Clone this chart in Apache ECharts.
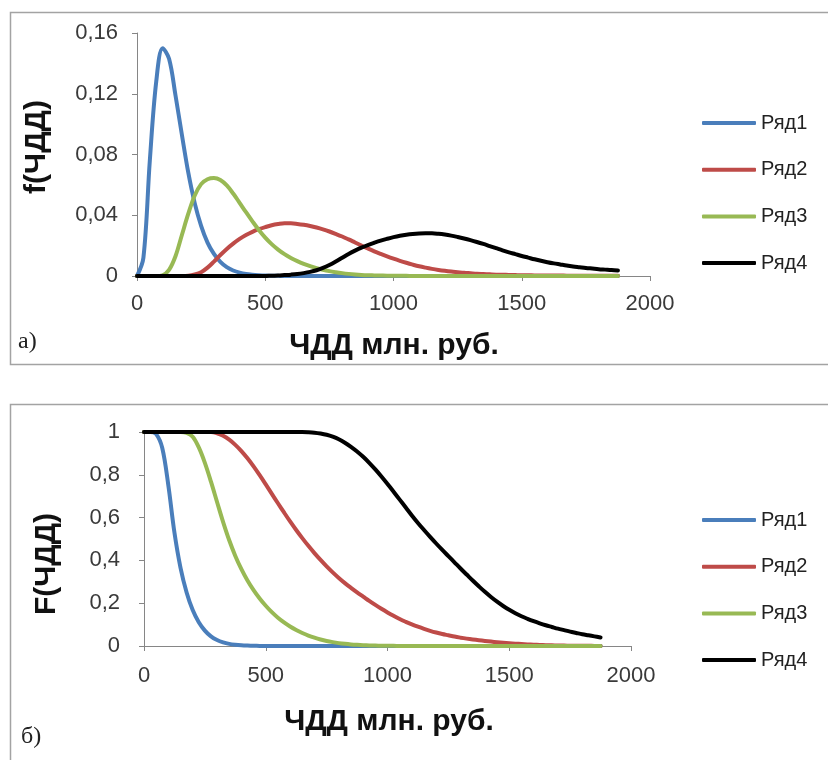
<!DOCTYPE html>
<html>
<head>
<meta charset="utf-8">
<title>ЧДД</title>
<script src="https://cdn.jsdelivr.net/npm/echarts@6.0.0/dist/echarts.min.js"></script>
<style>
  html, body { margin: 0; padding: 0; background: #fff; }
  #chart { width: 828px; height: 760px; }
</style>
</head>
<body>
<div id="chart"></div>
<script>
// ЧДД values, млн. руб. (step 25)
const npv = [
  0, 25, 50, 75, 100, 125, 150, 175, 200, 225, 250, 275, 300, 325, 350, 375, 400, 425, 450, 475,
  500, 525, 550, 575, 600, 625, 650, 675, 700, 725, 750, 775, 800, 825, 850, 875, 900, 925, 950, 975,
  1000, 1025, 1050, 1075, 1100, 1125, 1150, 1175, 1200, 1225, 1250, 1275, 1300, 1325, 1350, 1375, 1400, 1425, 1450, 1475,
  1500, 1525, 1550, 1575, 1600, 1625, 1650, 1675, 1700, 1725, 1750, 1775, 1800, 1825, 1850, 1875
];

const seriesNames = ['Ряд1', 'Ряд2', 'Ряд3', 'Ряд4'];

// density f(ЧДД)
const density1 = [
  0, 0.012, 0.076, 0.128, 0.150, 0.143, 0.119, 0.093, 0.068, 0.048, 0.033, 0.022, 0.0145, 0.0093, 0.0058, 0.0036, 0.0022, 0.0013, 0.0008, 0.0005,
  0.0003, 0.0002, 0.0001, 0, 0, 0, 0, 0, 0, 0, 0, 0, 0, 0, 0, 0, 0, 0, 0, 0,
  0, 0, 0, 0, 0, 0, 0, 0, 0, 0, 0, 0, 0, 0, 0, 0, 0, 0, 0, 0,
  0, 0, 0, 0, 0, 0, 0, 0, 0, 0, 0, 0, 0, 0, 0, 0
];
const density2 = [
  0, 0, 0, 0, 0, 0, 0, 0, 0.0002, 0.001, 0.0025, 0.0055, 0.0095, 0.0138, 0.0178, 0.0213, 0.0244, 0.027, 0.0291, 0.0308,
  0.0322, 0.0334, 0.0342, 0.0347, 0.0347, 0.0343, 0.0337, 0.0329, 0.0319, 0.0307, 0.0293, 0.0277, 0.026, 0.0241, 0.0221, 0.0201, 0.0181, 0.0162, 0.0145, 0.0129,
  0.0114, 0.01, 0.0087, 0.0075, 0.0064, 0.0055, 0.0047, 0.004, 0.0034, 0.0029, 0.0025, 0.0021, 0.0018, 0.0015, 0.0013, 0.0011, 0.0009, 0.0008, 0.0007, 0.0006,
  0.0005, 0.0005, 0.0004, 0.0004, 0.0003, 0.0003, 0.0003, 0.0002, 0.0002, 0.0002, 0.0002, 0.0001, 0.0001, 0.0001, 0.0001, 0.0001
];
const density3 = [
  0, 0, 0, 0, 0.0005, 0.004, 0.013, 0.027, 0.041, 0.053, 0.0605, 0.0637, 0.0645, 0.0632, 0.0596, 0.0543, 0.0482, 0.042, 0.036, 0.0303,
  0.0253, 0.021, 0.0174, 0.0144, 0.0119, 0.0098, 0.008, 0.0065, 0.0052, 0.0041, 0.0032, 0.0025, 0.0019, 0.0014, 0.001, 0.0007, 0.0005, 0.0004, 0.0003, 0.0002,
  0.0002, 0.0001, 0.0001, 0, 0, 0, 0, 0, 0, 0, 0, 0, 0, 0, 0, 0, 0, 0, 0, 0,
  0, 0, 0, 0, 0, 0, 0, 0, 0, 0, 0, 0, 0, 0, 0, 0
];
const density4 = [
  0, 0, 0, 0, 0, 0, 0, 0, 0, 0, 0, 0, 0, 0, 0, 0, 0, 0, 0, 0,
  0, 0.0002, 0.0003, 0.0006, 0.0009, 0.0013, 0.0019, 0.0027, 0.0038, 0.0053, 0.0072, 0.0095, 0.012, 0.0145, 0.0167, 0.0187, 0.0204, 0.0219, 0.0233, 0.0245,
  0.0256, 0.0265, 0.0272, 0.0277, 0.028, 0.0281, 0.0281, 0.0278, 0.0273, 0.0266, 0.0257, 0.0247, 0.0236, 0.0224, 0.0211, 0.0197, 0.0183, 0.0169, 0.0156, 0.0144,
  0.0132, 0.0121, 0.011, 0.01, 0.0091, 0.0083, 0.0076, 0.0069, 0.0063, 0.0058, 0.0053, 0.0049, 0.0045, 0.0042, 0.0039, 0.0037
];

// probability F(ЧДД)
const prob1 = [
  1, 1, 0.99, 0.925, 0.75, 0.53, 0.365, 0.25, 0.168, 0.111, 0.072, 0.045, 0.028, 0.017, 0.01, 0.006, 0.0035, 0.002, 0.001, 0.0005,
  0, 0, 0, 0, 0, 0, 0, 0, 0, 0, 0, 0, 0, 0, 0, 0, 0, 0, 0, 0,
  0, 0, 0, 0, 0, 0, 0, 0, 0, 0, 0, 0, 0, 0, 0, 0, 0, 0, 0, 0,
  0, 0, 0, 0, 0, 0, 0, 0, 0, 0, 0, 0, 0, 0, 0, 0
];
const prob2 = [
  1, 1, 1, 1, 1, 1, 1, 1, 1, 1, 1, 1, 0.994, 0.982, 0.964, 0.94, 0.911, 0.877, 0.839, 0.798,
  0.755, 0.711, 0.667, 0.624, 0.582, 0.542, 0.504, 0.468, 0.434, 0.402, 0.372, 0.344, 0.318, 0.294, 0.272, 0.251, 0.231, 0.211, 0.192, 0.174,
  0.157, 0.141, 0.126, 0.113, 0.101, 0.09, 0.08, 0.071, 0.063, 0.056, 0.05, 0.044, 0.039, 0.0345, 0.0305, 0.027, 0.0235, 0.0205, 0.0178, 0.0153,
  0.013, 0.011, 0.0092, 0.0076, 0.0062, 0.005, 0.004, 0.0032, 0.0025, 0.0019, 0.0015, 0.0012, 0.0009, 0.0007, 0.0005, 0.0004
];
const prob3 = [
  1, 1, 1, 1, 1, 1, 1, 0.996, 0.978, 0.928, 0.856, 0.768, 0.673, 0.579, 0.494, 0.421, 0.359, 0.306, 0.261, 0.222,
  0.188, 0.158, 0.132, 0.11, 0.091, 0.075, 0.061, 0.049, 0.039, 0.0305, 0.0235, 0.018, 0.0135, 0.01, 0.0073, 0.0053, 0.0038, 0.0027, 0.0019, 0.0013,
  0.0009, 0.0006, 0.0004, 0.0003, 0.0002, 0.0001, 0, 0, 0, 0, 0, 0, 0, 0, 0, 0, 0, 0, 0, 0,
  0, 0, 0, 0, 0, 0, 0, 0, 0, 0, 0, 0, 0, 0, 0, 0
];
const prob4 = [
  1, 1, 1, 1, 1, 1, 1, 1, 1, 1, 1, 1, 1, 1, 1, 1, 1, 1, 1, 1,
  1, 1, 1, 1, 1, 1, 1, 0.999, 0.997, 0.993, 0.987, 0.978, 0.966, 0.95, 0.931, 0.909, 0.884, 0.856, 0.825, 0.792,
  0.757, 0.721, 0.684, 0.647, 0.61, 0.575, 0.542, 0.51, 0.479, 0.449, 0.42, 0.391, 0.362, 0.334, 0.306, 0.279, 0.253, 0.229, 0.207, 0.187,
  0.169, 0.153, 0.139, 0.127, 0.116, 0.106, 0.097, 0.089, 0.081, 0.074, 0.067, 0.061, 0.055, 0.05, 0.045, 0.04
];

const xTicks = [0, 500, 1000, 1500, 2000];
const densityTicks = [0, 0.04, 0.08, 0.12, 0.16];
const probTicks = [0, 0.2, 0.4, 0.6, 0.8, 1];

const colors = ['#4a7ebb', '#be4b48', '#98b954', '#000000'];
const axisGray = '#868686';
const labelColor = '#3a3a3a';
const sans = '"Liberation Sans", Arial, sans-serif';

const commaFmt = v => String(+v.toFixed(2)).replace('.', ',');
const plainFmt = v => String(v);

function xAxisFor(gridIndex, margin) {
  return {
    type: 'value', gridIndex,
    min: xTicks[0], max: xTicks[xTicks.length - 1], interval: xTicks[1] - xTicks[0],
    axisLine: { show: true, onZero: false, lineStyle: { color: axisGray, width: 1 } },
    axisTick: { show: true, length: 5, lineStyle: { color: axisGray } },
    axisLabel: { color: labelColor, fontSize: 22, fontFamily: sans, margin, formatter: plainFmt },
    splitLine: { show: false }
  };
}
function yAxisFor(gridIndex, ticks, margin) {
  return {
    type: 'value', gridIndex,
    min: ticks[0], max: ticks[ticks.length - 1], interval: ticks[1] - ticks[0],
    axisLine: { show: true, lineStyle: { color: axisGray, width: 1 } },
    axisTick: { show: true, length: 5, lineStyle: { color: axisGray } },
    axisLabel: { color: labelColor, fontSize: 22, fontFamily: sans, margin, formatter: commaFmt },
    splitLine: { show: false }
  };
}

function lineSeries(name, values, idx, axisIndex) {
  return {
    name, type: 'line',
    xAxisIndex: axisIndex, yAxisIndex: axisIndex,
    data: npv.map((x, i) => [x, values[i]]),
    smooth: 0.35,
    showSymbol: false,
    color: colors[idx],
    lineStyle: { width: 4, color: colors[idx], cap: 'round', join: 'round' },
    z: 2 + idx
  };
}

function legendAt(top) {
  return {
    orient: 'vertical', left: 697, top,
    icon: 'roundRect', itemWidth: 54, itemHeight: 4, itemGap: 26.7,
    textStyle: { fontSize: 20, lineHeight: 20, color: '#222', fontFamily: sans },
    data: seriesNames, selectedMode: false
  };
}

const titleFont = { fontSize: 30, fontWeight: 'bold', fontFamily: sans, fill: '#111' };

const option = {
  backgroundColor: '#ffffff',
  animation: false,
  grid: [
    { left: 137, top: 33, width: 513, height: 243 },
    { left: 144, top: 432, width: 487, height: 214 }
  ],
  xAxis: [xAxisFor(0, 17), xAxisFor(1, 19)],
  yAxis: [yAxisFor(0, densityTicks, 19), yAxisFor(1, probTicks, 24)],
  legend: [legendAt(108), legendAt(505)],
  series: [
    lineSeries(seriesNames[0], density1, 0, 0),
    lineSeries(seriesNames[1], density2, 1, 0),
    lineSeries(seriesNames[2], density3, 2, 0),
    lineSeries(seriesNames[3], density4, 3, 0),
    lineSeries(seriesNames[0], prob1, 0, 1),
    lineSeries(seriesNames[1], prob2, 1, 1),
    lineSeries(seriesNames[2], prob3, 2, 1),
    lineSeries(seriesNames[3], prob4, 3, 1)
  ],
  graphic: [
    // panel frames
    { type: 'rect', shape: { x: 10.5, y: 12.5, width: 840, height: 352 }, style: { fill: 'none', stroke: '#a3a3a3', lineWidth: 1.5 }, silent: true },
    { type: 'rect', shape: { x: 10.5, y: 404.5, width: 840, height: 400 }, style: { fill: 'none', stroke: '#a3a3a3', lineWidth: 1.5 }, silent: true },
    // axis titles
    { type: 'text', x: 394, y: 346, style: Object.assign({ text: 'ЧДД млн. руб.', align: 'center', verticalAlign: 'middle' }, titleFont) },
    { type: 'text', x: 37, y: 147, rotation: Math.PI / 2, style: Object.assign({ text: 'f(ЧДД)', align: 'center', verticalAlign: 'middle' }, titleFont) },
    { type: 'text', x: 389, y: 722, style: Object.assign({ text: 'ЧДД млн. руб.', align: 'center', verticalAlign: 'middle' }, titleFont) },
    { type: 'text', x: 47, y: 564, rotation: Math.PI / 2, style: Object.assign({ text: 'F(ЧДД)', align: 'center', verticalAlign: 'middle' }, titleFont) },
    // panel letters
    { type: 'text', x: 18, y: 342, style: { text: 'а)', fontSize: 24, fontFamily: '"Liberation Serif", "Times New Roman", serif', fill: '#222', align: 'left', verticalAlign: 'middle' } },
    { type: 'text', x: 21, y: 737, style: { text: 'б)', fontSize: 24, fontFamily: '"Liberation Serif", "Times New Roman", serif', fill: '#222', align: 'left', verticalAlign: 'middle' } }
  ]
};

const chart = echarts.init(document.getElementById('chart'), null, { renderer: 'canvas' });
chart.setOption(option);
</script>
</body>
</html>
